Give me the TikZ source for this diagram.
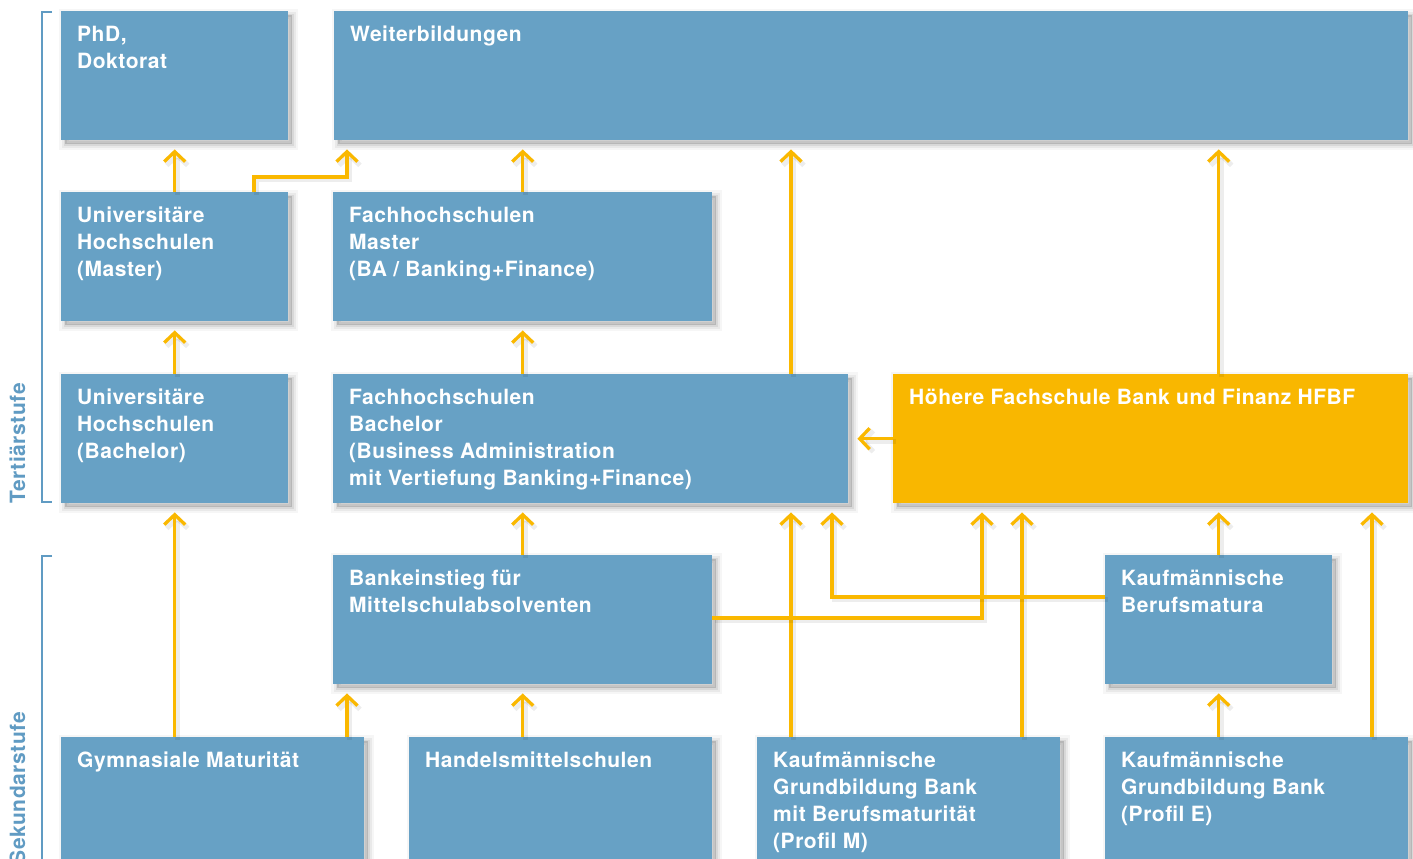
\documentclass[tikz,border=0pt]{standalone}
\usepackage{fontspec}
\setmainfont{TeX Gyre Heros}[LetterSpace=2.5]
\usetikzlibrary{arrows.meta}
\definecolor{boxblue}{RGB}{103,161,197}
\definecolor{boxyellow}{RGB}{249,183,0}
\definecolor{lineyellow}{RGB}{250,184,0}
\definecolor{sideblue}{RGB}{96,155,195}
\newcommand\bx[3]{\parbox[c][#2pt][t]{\dimexpr#1pt-32pt\relax}{\rule{0pt}{30pt}#3}}
\tikzset{
  box/.style={fill=boxblue, inner xsep=16pt, inner ysep=0pt, anchor=north west,
    text=white, font=\fontsize{21}{27}\bfseries\selectfont,
    preaction={fill=black, draw=black, opacity=0.035, line width=12pt,
      transform canvas={xshift=4pt, yshift=-4pt}},
    preaction={fill=black, draw=black, opacity=0.05, line width=7pt,
      transform canvas={xshift=4pt, yshift=-4pt}},
    preaction={fill=black, draw=black, opacity=0.07, line width=3pt,
      transform canvas={xshift=4pt, yshift=-4pt}}},
  ybox/.style={box, fill=boxyellow},
  arr/.style={draw=lineyellow, line width=3.3pt,
    -{Straight Barb[length=10pt, width=21pt]}, shorten >=9pt,
    preaction={draw=black, draw opacity=0.07, line width=5pt,
      transform canvas={xshift=2.5pt, yshift=-2.5pt}}},
  bracket/.style={draw=sideblue, line width=1.5pt},
  side/.style={rotate=90, inner sep=0pt, text=sideblue,
    font=\fontsize{21}{24}\bfseries\selectfont}
}
\begin{document}
\begin{tikzpicture}[x=1pt, y=-1pt]
\useasboundingbox (0,0) rectangle (1413,859);
\clip (0,0) rectangle (1413,859);
\fill[white] (0,0) rectangle (1413,859);

% boxes
\node[box] (phd) at (61,11) {\bx{227}{129}{PhD,\\Doktorat}};
\node[box] (weiter) at (334,11) {\bx{1074}{129}{Weiterbildungen}};
\node[box] (umaster) at (61,192) {\bx{227}{129}{Universitäre\\Hochschulen\\(Master)}};
\node[box] (fmaster) at (333,192) {\bx{379}{129}{Fachhochschulen\\Master\\(BA / Banking+Finance)}};
\node[box] (ubach) at (61,374) {\bx{227}{129}{Universitäre\\Hochschulen\\(Bachelor)}};
\node[box] (fbach) at (333,374) {\bx{515}{129}{Fachhochschulen\\Bachelor\\(Business Administration\\mit Vertiefung Banking+Finance)}};
\node[ybox] (hfbf) at (893,374) {\bx{515}{129}{Höhere Fachschule Bank und Finanz HFBF}};
\node[box] (bank) at (333,555) {\bx{379}{129}{Bankeinstieg für\\Mittelschulabsolventen}};
\node[box] (kbm) at (1105,555) {\bx{227}{129}{Kaufmännische\\Berufsmatura}};
\node[box] (gym) at (61,737) {\bx{303}{150}{Gymnasiale Maturität}};
\node[box] (hms) at (409,737) {\bx{303}{150}{Handelsmittelschulen}};
\node[box] (kgbm) at (757,737) {\bx{303}{150}{Kaufmännische\\Grundbildung Bank\\mit Berufsmaturität\\(Profil M)}};
\node[box] (kgbe) at (1105,737) {\bx{303}{150}{Kaufmännische\\Grundbildung Bank\\(Profil E)}};

% side labels and brackets
\node[side, anchor=base east] (tert) at (25,383) {Tertiärstufe};
\node[side, anchor=base east] (sek) at (25,712) {Sekundarstufe};
\draw[bracket] (52,12) -- (42,12) -- (42,502) -- (52,502);
\draw[bracket] (52,556) -- (42,556) -- (42,880);

% helper coordinates
\coordinate (x254) at (254,0);
\coordinate (x347) at (347,0);
\coordinate (x791) at (791,0);
\coordinate (x832) at (832,0);
\coordinate (x982) at (982,0);
\coordinate (x1022) at (1022,0);
\coordinate (x1372) at (1372,0);
\coordinate (y177) at (0,177);
\coordinate (y597) at (0,597);
\coordinate (y618) at (0,618);

% connectors
\draw[arr] (umaster.north) -- (phd.south);
\draw[arr] (umaster.north -| x254) -- (x254 |- y177) -| (weiter.south -| x347);
\draw[arr] (fmaster.north) -- (weiter.south -| fmaster.north);
\draw[arr] (fbach.north -| x791) -- (weiter.south -| x791);
\draw[arr] (hfbf.north -| kbm.north) -- (weiter.south -| kbm.north);
\draw[arr] (ubach.north) -- (umaster.south);
\draw[arr] (fbach.north -| fmaster.south) -- (fmaster.south);
\draw[arr] (hfbf.west) -- (fbach.east);
\draw[arr] (gym.north -| ubach.south) -- (ubach.south);
\draw[arr] (gym.north -| x347) -- (bank.south -| x347);
\draw[arr] (hms.north -| bank.south) -- (bank.south);
\draw[arr] (bank.north) -- (fbach.south -| bank.north);
\draw[arr] (kgbm.north -| x791) -- (fbach.south -| x791);
\draw[arr] (kgbm.north -| x1022) -- (hfbf.south -| x1022);
\draw[arr] (bank.east |- y618) -| (hfbf.south -| x982);
\draw[arr] (kbm.west |- y597) -| (fbach.south -| x832);
\draw[arr] (kbm.north) -- (hfbf.south -| kbm.north);
\draw[arr] (kgbe.north -| kbm.south) -- (kbm.south);
\draw[arr] (kgbe.north -| x1372) -- (hfbf.south -| x1372);
\end{tikzpicture}
\end{document}
